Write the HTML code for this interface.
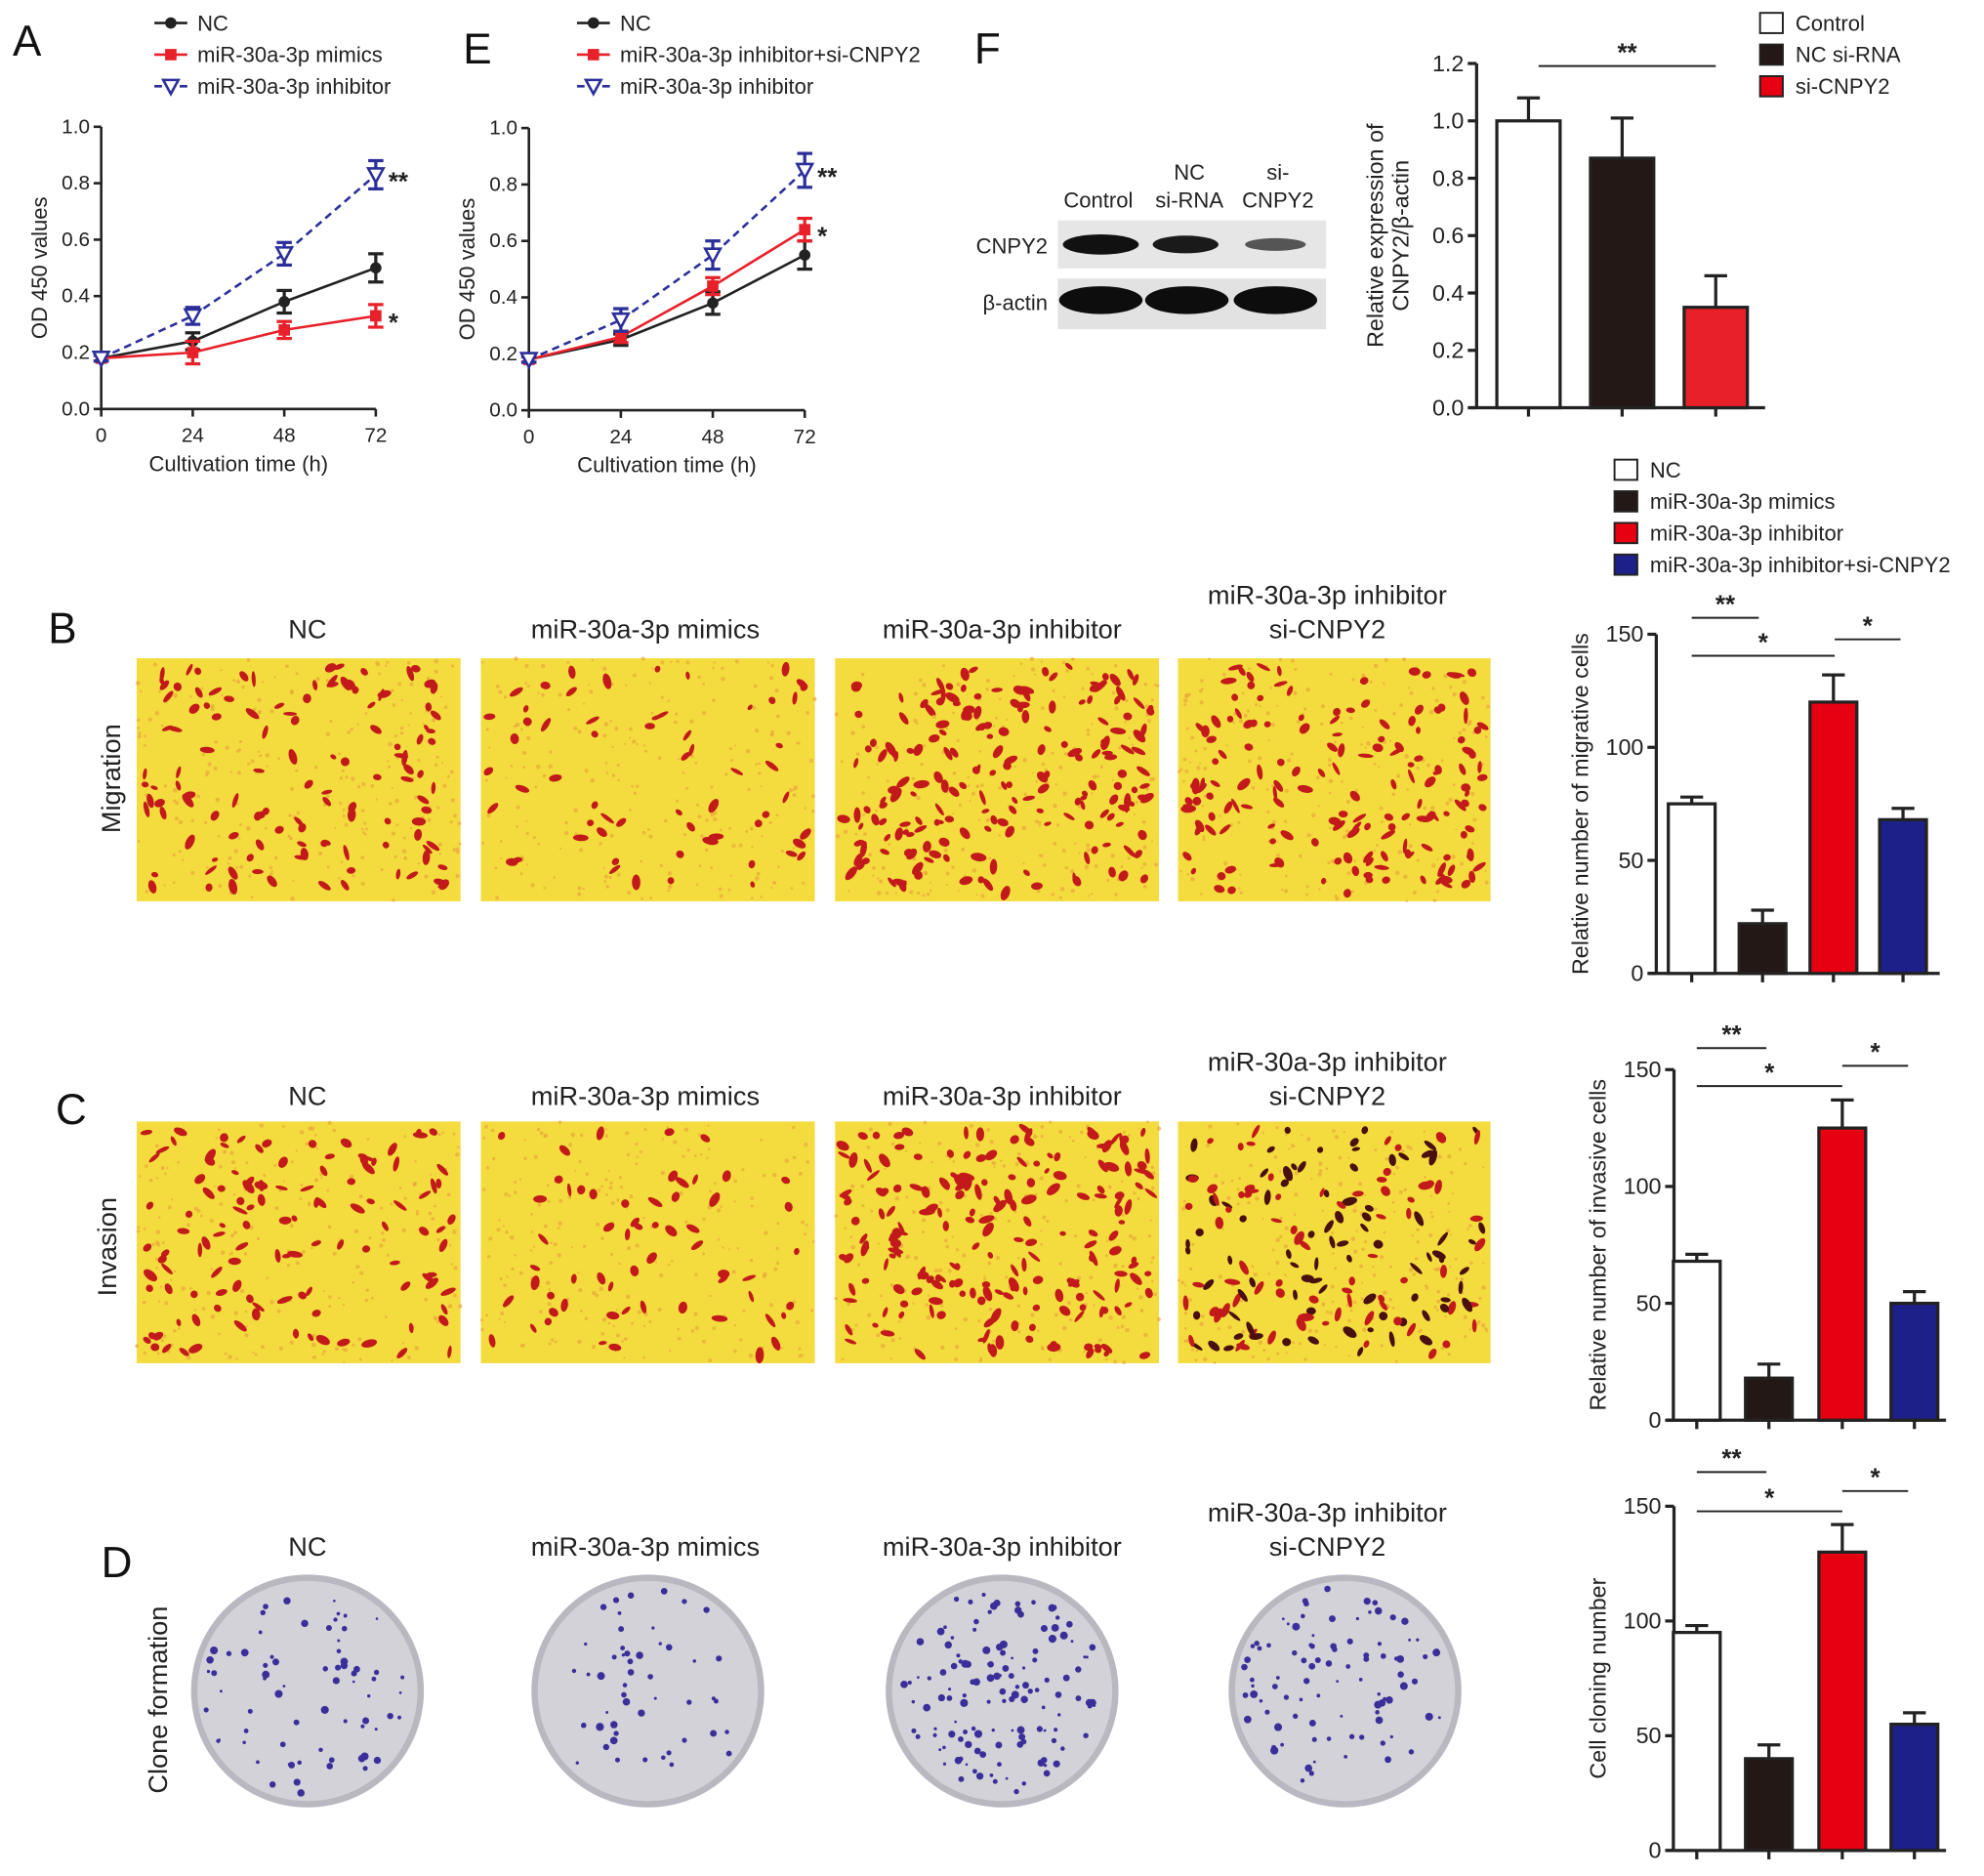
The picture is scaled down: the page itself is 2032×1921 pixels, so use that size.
<!DOCTYPE html>
<html><head><meta charset="utf-8"><style>
html,body{margin:0;padding:0;background:#fff;}
svg{display:block;font-family:"Liberation Sans",Arial,sans-serif;}
</style></head><body>
<svg id="fig" xmlns="http://www.w3.org/2000/svg" width="2032" height="1921" viewBox="0 0 1568 1482">
<rect width="1568" height="1482" fill="#fff"/>
<g id="root"></g>
</svg>
<script>
// ---- Panel A data ----
const timesA = [0, 24, 48, 72];
const ncA = [0.18, 0.24, 0.38, 0.50];
const ncAErr = [0.01, 0.03, 0.04, 0.05];
const mimicsA = [0.18, 0.20, 0.28, 0.33];
const mimicsAErr = [0.01, 0.04, 0.03, 0.04];
const inhA = [0.18, 0.33, 0.55, 0.83];
const inhAErr = [0.01, 0.03, 0.04, 0.05];
// ---- Panel E data ----
const ncE = [0.18, 0.25, 0.38, 0.55];
const ncEErr = [0.01, 0.02, 0.04, 0.05];
const inhSiE = [0.18, 0.26, 0.44, 0.64];
const inhSiEErr = [0.01, 0.02, 0.03, 0.04];
const inhE = [0.18, 0.32, 0.55, 0.85];
const inhEErr = [0.01, 0.04, 0.05, 0.06];
const odTicks = [0.0, 0.2, 0.4, 0.6, 0.8, 1.0];
// ---- Panel F data ----
const fCats = ["Control", "NC si-RNA", "si-CNPY2"];
const fVals = [1.0, 0.87, 0.35];
const fErr = [0.08, 0.14, 0.11];
const fTicks = [0.0, 0.2, 0.4, 0.6, 0.8, 1.0, 1.2];
// ---- B/C/D data ----
const groups = ["NC", "miR-30a-3p mimics", "miR-30a-3p inhibitor", "miR-30a-3p inhibitor+si-CNPY2"];
const migVals = [75, 22, 120, 68];
const migErr = [3, 6, 12, 5];
const invVals = [68, 18, 125, 50];
const invErr = [3, 6, 12, 5];
const cloneVals = [95, 40, 130, 55];
const cloneErr = [3, 6, 12, 5];
const countTicks = [0, 50, 100, 150];

const NS = "http://www.w3.org/2000/svg";
const root = document.getElementById('root');
function el(tag, attrs, parent, text) {
  const e = document.createElementNS(NS, tag);
  for (const k in attrs) e.setAttribute(k, attrs[k]);
  if (text !== undefined) e.textContent = text;
  (parent || root).appendChild(e);
  return e;
}
function grp(name, parent) {
  const g = el('g', {}, parent);
  
  
  return g;
}
function txt(parent, name, x, y, s, size, anchor, extra) {
  const t = el('text', Object.assign({x: x, y: y, 'font-size': size, 'text-anchor': anchor || 'middle', fill: '#222'}, extra || {}), parent, s);
  
  
  return t;
}
// deterministic texture generator (image texture only, not data)
let seed = 12345;
function rnd() { seed = (seed * 1103515245 + 12345) % 2147483648; return seed / 2147483648; }

[["A",10,44],["E",366,50],["F",770,50],["B",38,508],["C",44,888],["D",80,1246]].forEach(p => {
  txt(root, 'panel-label-' + p[0].toLowerCase(), p[1], p[2], p[0], 34, 'start', {fill: '#111'});
});

function lineChart(name, x0, x1, y0, y1, series, legendX, legendItems) {
  const g = grp(name);
  const xs = t => x0 + (t / 72) * (x1 - x0);
  const ys = v => y0 - (v / 1.0) * (y0 - y1);
  el('line', {x1: x0, y1: ys(1.0), x2: x0, y2: y0, stroke: '#222', 'stroke-width': 2}, g);
  el('line', {x1: x0, y1: y0, x2: x1, y2: y0, stroke: '#222', 'stroke-width': 2}, g);
  odTicks.forEach(v => {
    el('line', {x1: x0 - 6, y1: ys(v), x2: x0, y2: ys(v), stroke: '#222', 'stroke-width': 2}, g);
    txt(g, 'y-tick-label', x0 - 9, ys(v) + 5, v.toFixed(1), 16, 'end');
  });
  timesA.forEach(t => {
    el('line', {x1: xs(t), y1: y0, x2: xs(t), y2: y0 + 6, stroke: '#222', 'stroke-width': 2}, g);
    txt(g, 'x-tick-label', xs(t), y0 + 26, String(t), 16);
  });
  txt(g, 'x-axis-title', (x0 + x1) / 2, y0 + 49, 'Cultivation time (h)', 17);
  txt(g, 'y-axis-title', 0, 0, 'OD 450 values', 17, 'middle', {transform: `translate(${x0 - 43},${(y0 + ys(1)) / 2}) rotate(-90)`});
  series.forEach(s => {
    const sg = grp('series-' + s.name, g);
    let d = '';
    s.vals.forEach((v, i) => { d += (i ? 'L' : 'M') + xs(timesA[i]) + ',' + ys(v); });
    el('path', {d: d, fill: 'none', stroke: s.color, 'stroke-width': 2, 'stroke-dasharray': s.dash || 'none'}, sg);
    s.vals.forEach((v, i) => {
      const x = xs(timesA[i]), e = s.err[i];
      el('line', {x1: x, y1: ys(v - e), x2: x, y2: ys(v + e), stroke: s.color, 'stroke-width': 2.5}, sg);
      el('line', {x1: x - 6, y1: ys(v - e), x2: x + 6, y2: ys(v - e), stroke: s.color, 'stroke-width': 2.5}, sg);
      el('line', {x1: x - 6, y1: ys(v + e), x2: x + 6, y2: ys(v + e), stroke: s.color, 'stroke-width': 2.5}, sg);
      marker(sg, s.marker, x, ys(v), s.color);
    });
    if (s.star) txt(sg, 'significance-star', xs(72) + 10, ys(s.vals[3]) + 12, s.star, 20, 'start', {'font-weight': 'bold'});
  });
  legendItems.forEach((it, i) => {
    const lg = grp('legend-entry', g);
    const y = 18 + i * 25;
    el('line', {x1: legendX, y1: y, x2: legendX + 26, y2: y, stroke: it.color, 'stroke-width': 2, 'stroke-dasharray': it.dash || 'none'}, lg);
    marker(lg, it.marker, legendX + 13, y, it.color);
    txt(lg, 'legend-label', legendX + 34, y + 6, it.label, 17, 'start');
  });
}
function marker(g, type, x, y, c) {
  if (type === 'circle') el('circle', {cx: x, cy: y, r: 4.5, fill: c}, g);
  else if (type === 'square') el('rect', {x: x - 4.5, y: y - 4.5, width: 9, height: 9, fill: c}, g);
  else el('path', {d: `M${x - 6},${y - 5}L${x + 6},${y - 5}L${x},${y + 6}Z`, fill: '#fff', stroke: c, 'stroke-width': 2}, g);
}
const BLK = '#222', RED = '#e8202a', BLU = '#2b2f9a';
lineChart('chart-a', 80, 297, 323, 100, [
  {name: 'nc', vals: ncA, err: ncAErr, color: BLK, marker: 'circle'},
  {name: 'mimics', vals: mimicsA, err: mimicsAErr, color: RED, marker: 'square', star: '*'},
  {name: 'inhibitor', vals: inhA, err: inhAErr, color: BLU, marker: 'tri', dash: '6,4', star: '**'}
], 122, [
  {label: 'NC', color: BLK, marker: 'circle'},
  {label: 'miR-30a-3p mimics', color: RED, marker: 'square'},
  {label: 'miR-30a-3p inhibitor', color: BLU, marker: 'tri', dash: '6,4'}
]);
lineChart('chart-e', 418, 636, 324, 101, [
  {name: 'nc', vals: ncE, err: ncEErr, color: BLK, marker: 'circle'},
  {name: 'inhibitor-si', vals: inhSiE, err: inhSiEErr, color: RED, marker: 'square', star: '*'},
  {name: 'inhibitor', vals: inhE, err: inhEErr, color: BLU, marker: 'tri', dash: '6,4', star: '**'}
], 456, [
  {label: 'NC', color: BLK, marker: 'circle'},
  {label: 'miR-30a-3p inhibitor+si-CNPY2', color: RED, marker: 'square'},
  {label: 'miR-30a-3p inhibitor', color: BLU, marker: 'tri', dash: '6,4'}
]);

(function () {
  const g = grp('western-blot');
  txt(g, 'lane-label', 868, 164, 'Control', 17);
  txt(g, 'lane-label', 940, 142, 'NC', 17); txt(g, 'lane-label', 940, 164, 'si-RNA', 17);
  txt(g, 'lane-label', 1010, 142, 'si-', 17); txt(g, 'lane-label', 1010, 164, 'CNPY2', 17);
  txt(g, 'row-label', 828, 200, 'CNPY2', 17, 'end');
  txt(g, 'row-label', 828, 245, 'β-actin', 17, 'end');
  el('rect', {x: 836, y: 174, width: 212, height: 38, fill: '#e6e6e6'}, g);
  el('rect', {x: 836, y: 220, width: 212, height: 40, fill: '#e2e2e2'}, g);
  [[870, 30, 8, '#111'], [937, 26, 7, '#1a1a1a'], [1008, 24, 5, '#555']].forEach(b => el('ellipse', {cx: b[0], cy: 193, rx: b[1], ry: b[2], fill: b[3]}, g));
  [870, 938, 1008].forEach(x => el('ellipse', {cx: x, cy: 237, rx: 33, ry: 11, fill: '#0d0d0d'}, g));
})();

function barChart(name, axX, axEnd, y0, yTop, max, ticks, cats, vals, errs, colors, centers, bw, title, sig) {
  const g = grp(name);
  const ys = v => y0 - (v / max) * (y0 - yTop);
  el('line', {x1: axX, y1: yTop, x2: axX, y2: y0, stroke: '#222', 'stroke-width': 2.5}, g);
  el('line', {x1: axX - 6, y1: y0, x2: axEnd, y2: y0, stroke: '#222', 'stroke-width': 2.5}, g);
  ticks.forEach(v => {
    el('line', {x1: axX - 7, y1: ys(v), x2: axX, y2: ys(v), stroke: '#222', 'stroke-width': 2.5}, g);
    txt(g, 'y-tick-label', axX - 10, ys(v) + 6, (max < 5 ? v.toFixed(1) : String(v)), 18, 'end');
  });
  vals.forEach((v, i) => {
    const cx = centers[i];
    const b = el('rect', {x: cx - bw / 2, y: ys(v), width: bw, height: y0 - ys(v), fill: colors[i], stroke: '#222', 'stroke-width': 2.5}, g);
    
    
    el('line', {x1: cx, y1: ys(v), x2: cx, y2: ys(v + errs[i]), stroke: '#222', 'stroke-width': 2.5}, g);
    el('line', {x1: cx - 9, y1: ys(v + errs[i]), x2: cx + 9, y2: ys(v + errs[i]), stroke: '#222', 'stroke-width': 2.5}, g);
    el('line', {x1: cx, y1: y0, x2: cx, y2: y0 + 7, stroke: '#222', 'stroke-width': 2.5}, g);
  });
  const lines = title.split('\n');
  lines.forEach((l, k) => txt(g, 'y-axis-title', 0, 0, l, 18, 'middle', {transform: `translate(${axX - 54 + k * 20 - (lines.length - 1) * 20},${(y0 + yTop) / 2}) rotate(-90)`}));
  sig.forEach(s => {
    const sg = grp('significance-bracket', g);
    el('line', {x1: s[0], y1: s[2], x2: s[1], y2: s[2], stroke: '#222', 'stroke-width': 1.5}, sg);
    txt(sg, 'significance-star', (s[0] + s[1]) / 2, s[2] - 4, s[3], 20, 'middle', {'font-weight': 'bold'});
  });
}
barChart('chart-f', 1167, 1395, 322, 50, 1.2, fTicks, fCats, fVals, fErr, ['#fff', '#231815', RED], [1208, 1282, 1356], 50,
  'Relative expression of\nCNPY2/β-actin', [[1216, 1356, 52, '**']]);
const fourColors = ['#fff', '#231815', '#e60012', '#1d2088'];
barChart('chart-migration', 1309, 1533, 769, 501, 150, countTicks, groups, migVals, migErr, fourColors, [1337, 1393, 1449, 1504], 37,
  'Relative number of migrative cells', [[1337, 1390, 488, '**'], [1337, 1450, 518, '*'], [1450, 1502, 505, '*']]);
barChart('chart-invasion', 1323, 1538, 1122, 845, 150, countTicks, groups, invVals, invErr, fourColors, [1341, 1398, 1456, 1513], 37,
  'Relative number of invasive cells', [[1341, 1396, 828, '**'], [1341, 1456, 858, '*'], [1456, 1508, 842, '*']]);
barChart('chart-clone', 1323, 1538, 1462, 1190, 150, countTicks, groups, cloneVals, cloneErr, fourColors, [1341, 1398, 1456, 1513], 37,
  'Cell cloning number', [[1341, 1396, 1163, '**'], [1341, 1456, 1194, '*'], [1456, 1508, 1178, '*']]);

(function () {
  const g = grp('legend-f');
  [['Control', '#fff'], ['NC si-RNA', '#231815'], ['si-CNPY2', '#e60012']].forEach((it, i) => {
    const lg = grp('legend-entry', g);
    el('rect', {x: 1391, y: 10 + i * 25, width: 18, height: 16, fill: it[1], stroke: '#222', 'stroke-width': 1.5}, lg);
    txt(lg, 'legend-label', 1419, 24 + i * 25, it[0], 17, 'start');
  });
  const g2 = grp('legend-groups');
  groups.forEach((n, i) => {
    const lg = grp('legend-entry', g2);
    el('rect', {x: 1276, y: 363 + i * 25, width: 18, height: 16, fill: fourColors[i], stroke: '#222', 'stroke-width': 1.5}, lg);
    txt(lg, 'legend-label', 1304, 377 + i * 25, n, 17, 'start');
  });
})();

const imgX = [[108, 364], [380, 644], [660, 916], [931, 1178]];
const counts = [120, 60, 200, 160];
function titles(y, name) {
  const g = grp(name);
  const cx = [243, 510, 792, 1049];
  txt(g, 'column-title', cx[0], y, 'NC', 21);
  txt(g, 'column-title', cx[1], y, 'miR-30a-3p mimics', 21);
  txt(g, 'column-title', cx[2], y, 'miR-30a-3p inhibitor', 21);
  txt(g, 'column-title', cx[3], y - 27, 'miR-30a-3p inhibitor', 21);
  txt(g, 'column-title', cx[3], y, 'si-CNPY2', 21);
}
function micro(name, y0, y1, dark) {
  const g = grp(name);
  imgX.forEach((r, k) => {
    const ig = grp('transwell-image-' + (k + 1), g);
    el('rect', {x: r[0], y: y0, width: r[1] - r[0], height: y1 - y0, fill: '#f4dc3e'}, ig);
    for (let i = 0; i < 220; i++) {
      el('circle', {cx: r[0] + rnd() * (r[1] - r[0]), cy: y0 + rnd() * (y1 - y0), r: 0.8 + rnd(), fill: '#e9a63a', opacity: 0.7}, ig);
    }
    for (let i = 0; i < counts[k]; i++) {
      const x = r[0] + 6 + rnd() * (r[1] - r[0] - 12), y = y0 + 6 + rnd() * (y1 - y0 - 12);
      const col = (dark && k === 3 && rnd() < 0.5) ? '#4a1010' : '#c21a1a';
      el('ellipse', {cx: x, cy: y, rx: 2.5 + rnd() * 4, ry: 1.5 + rnd() * 2, fill: col, transform: `rotate(${rnd() * 180},${x},${y})`}, ig);
    }
  });
}
titles(504, 'titles-b'); micro('migration-images', 520, 712, false);
txt(root, 'row-label-migration', 0, 0, 'Migration', 21, 'middle', {transform: 'translate(95,615) rotate(-90)'});
titles(873, 'titles-c'); micro('invasion-images', 886, 1077, true);
txt(root, 'row-label-invasion', 0, 0, 'Invasion', 21, 'middle', {transform: 'translate(92,985) rotate(-90)'});
titles(1229, 'titles-d');
txt(root, 'row-label-clone', 0, 0, 'Clone formation', 21, 'middle', {transform: 'translate(132,1343) rotate(-90)'});
(function () {
  const g = grp('clone-plates');
  const cx = [243, 512, 792, 1063];
  const n = [70, 50, 130, 90];
  cx.forEach((x, k) => {
    const pg = grp('clone-plate-' + (k + 1), g);
    el('circle', {cx: x, cy: 1336, r: 92, fill: '#b9b7c0'}, pg);
    el('circle', {cx: x, cy: 1336, r: 87, fill: '#d3d2d8'}, pg);
    for (let i = 0; i < n[k]; i++) {
      const a = rnd() * 6.283, rr = Math.sqrt(rnd()) * 82;
      el('circle', {cx: x + rr * Math.cos(a), cy: 1336 + rr * Math.sin(a), r: 1 + rnd() * 2.2, fill: '#3a2f9a'}, pg);
    }
  });
})();
</script>
</body></html>
